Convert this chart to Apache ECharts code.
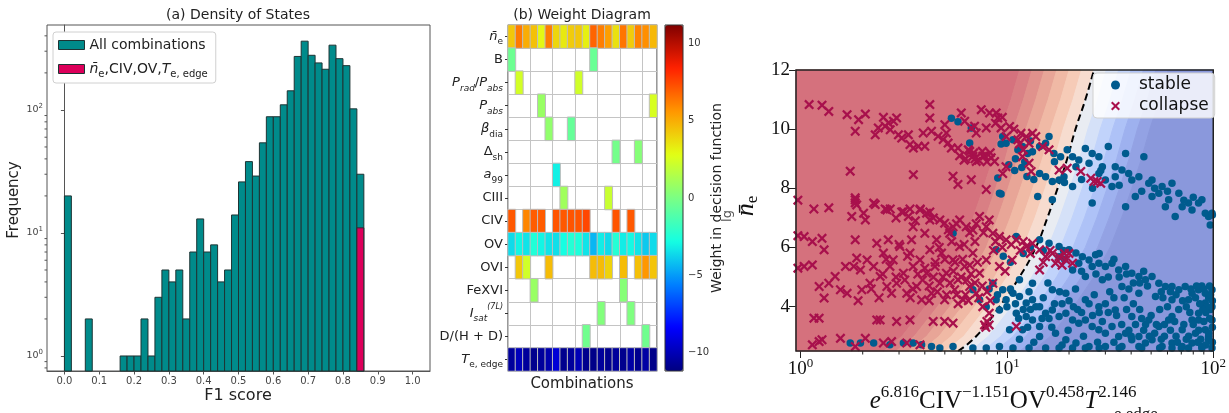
<!DOCTYPE html>
<html>
<head>
<meta charset="utf-8">
<script src="https://cdn.jsdelivr.net/npm/echarts@6/dist/echarts.min.js"></script>
<style>
html, body { margin: 0; padding: 0; background: #fff; }
#chart { width: 1229px; height: 413px; }
</style>
</head>
<body>
<div id="chart"></div>
<script>
// ---- (a) density of states: histogram, bins 0.02 wide (left edges) ----
var binStarts = [0.00, 0.06, 0.16, 0.18, 0.20, 0.22, 0.24, 0.26, 0.28, 0.30, 0.32, 0.34,
  0.36, 0.38, 0.40, 0.42, 0.44, 0.46, 0.48, 0.50, 0.52, 0.54, 0.56, 0.58, 0.60, 0.62,
  0.64, 0.66, 0.68, 0.70, 0.72, 0.74, 0.76, 0.78, 0.80, 0.82, 0.84];
var allCounts = [20, 2, 1, 1, 1, 2, 1, 3, 5, 4, 5, 2,
  7, 13, 7, 8, 4, 5, 14, 26, 38, 29, 54, 88, 88, 110,
  143, 272, 362, 278, 241, 214, 336, 261, 229, 102, 30];
var subsetBins = [0.84];
var subsetCounts = [11];
var f1Ticks = [0, 0.1, 0.2, 0.3, 0.4, 0.5, 0.6, 0.7, 0.8, 0.9, 1.0];
var freqTicks = [1, 10, 100];
var freqMinorTicks = [0.8, 0.9, 2, 3, 4, 5, 6, 7, 8, 9, 20, 30, 40, 50, 60, 70, 80, 90, 200, 300, 400];

// ---- (b) weight diagram ----
var combos = ['1','2','3','4','5','6','7','8','9','10','11','12','13','14','15','16','17','18','19','20'];
var features = [
  '{i|n\u0304}{s|e}', '{b|B}', '{i|P}{si|rad}{b|/}{i|P}{si|abs}', '{i|P}{si|abs}', '{i|\u03b2}{s|dia}',
  '{b|\u0394}{s|sh}', '{i|a}{s|99}', '{b|CIII}', '{b|CIV}', '{b|OV}', '{b|OVI}', '{b|FeXVI}',
  '{i|I}{si|sat}{u|(7L)}', '{b|D/(H + D)}', '{i|T}{s|e, edge}'
];
var _ = null;
var weightRows = [
  [4.3, 6.3, 5.0, 4.5, 3.0, 6.2, 3.9, 3.4, 4.2, 4.3, 3.2, 6.8, 6.2, 5.4, 3.6, 6.4, 4.2, 6.1, 5.8, 4.7],
  [-0.4, _, _, _, _, _, _, _, _, _, _, -0.5, _, _, _, _, _, _, _, _],
  [_, 2.4, _, _, _, _, _, _, _, 2.3, _, _, _, _, _, _, _, _, _, _],
  [_, _, _, _, 0.8, _, _, _, _, _, _, _, _, _, _, _, _, _, _, 2.5],
  [_, _, _, _, _, 0.6, _, _, -0.6, _, _, _, _, _, _, _, _, _, _, _],
  [_, _, _, _, _, _, _, _, _, _, _, _, _, _, -0.2, _, _, 0.3, _, _],
  [_, _, _, _, _, _, -3.1, _, _, _, _, _, _, _, _, _, _, _, _, _],
  [_, _, _, _, _, _, _, 1.0, _, _, _, _, _, 2.1, _, _, _, _, _, _],
  [7.1, _, 6.0, 7.0, 7.0, _, 7.2, 7.1, 7.2, 7.2, 7.5, _, _, _, 7.2, _, 7.1, _, _, _],
  [-3.6, -3.0, -3.4, -2.5, -3.0, -3.4, -3.5, -2.8, -2.4, -2.6, -3.4, -4.4, -3.2, -3.6, -2.4, -3.2, -2.9, -3.4, -4.0, -3.6],
  [_, 4.3, 2.3, _, _, 4.6, _, _, _, _, _, 4.6, 4.6, 4.0, _, 4.6, _, 4.5, 5.6, 4.4],
  [_, _, _, 0.8, _, _, _, _, _, _, _, _, _, _, _, 0.3, _, _, _, _],
  [_, _, _, _, _, _, _, _, _, _, _, _, 0.2, _, _, _, 0.1, _, _, _],
  [_, _, _, _, _, _, _, _, _, _, -0.3, _, _, _, _, _, _, _, -0.3, _],
  [-10.6, -9.9, -10.6, -10.9, -10.6, -10.2, -9.3, -10.9, -10.6, -10.0, -10.9, -11.0, -10.6, -10.9, -10.6, -10.9, -10.4, -10.9, -10.4, -11.0]
];
var weightTicks = [-10, -5, 0, 5, 10];
var jet = ['#000080', '#0000ff', '#0080ff', '#15ffe2', '#7bff84', '#e2ff15', '#ff9700', '#ff2100', '#800000'];

// ---- (c) decision boundary ----
var boundaryY = [2.5, 3, 4, 5, 6, 7, 8, 9, 10, 11, 12];
var boundaryX = [5.8, 7.1, 9.2, 11.5, 13.8, 15.7, 17.6, 19.6, 21.5, 24.0, 26.4];
// filled contour bands, edges in decades of x from the boundary
var bandEdges = [-3, -0.36, -0.30, -0.24, -0.18, -0.12, -0.06, 0, 0.06, 0.12, 0.18, 0.24, 0.30, 0.36, 3];
var bandColors = ['#d5717d', '#d97f84', '#e0918c', '#e8a597', '#f0b9a5', '#f6cbb7', '#f7dccf',
  '#e9ecf2', '#d5e1f8', '#c1d3fb', '#aec2f7', '#9eb1ef', '#93a2e4', '#8a98dc'];
var xTicksC = [1, 10, 100];
var xMinorTicksC = [2, 3, 4, 5, 6, 7, 8, 9, 20, 30, 40, 50, 60, 70, 80, 90];
var yTicksC = [4, 6, 8, 10, 12];

var collapsePoints = [
  [1.10,10.83],[1.27,10.81],[1.37,10.6],[1.68,10.49],[1.84,9.93],[1.91,10.32],[2.06,10.51],[2.30,9.81],
  [2.38,10.04],[2.52,10.40],[2.57,10.10],[2.67,10.21],[2.72,9.98],[2.82,10.27],[2.92,10.38],[2.98,9.81],
  [3.09,9.70],[3.33,9.81],[3.39,9.48],[3.52,9.36],[3.72,9.42],[3.93,9.87],[4.0,9.42],[4.23,10.83],
  [4.23,10.38],[4.31,9.93],[4.64,9.76],[4.91,9.65],[5.0,10.15],[5.09,9.87],[5.19,9.53],[5.38,9.36],
  [5.79,9.36],[6.01,10.55],[6.24,10.27],[6.72,10.04],[6.97,10.1],[7.1,9.87],[6.6,9.25],[6.84,9.08],
  [7.51,10.66],[7.64,9.08],[7.94,10.04],[8.24,10.55],[8.39,9.03],[8.71,8.91],[8.87,10.55],[9.03,10.38],
  [9.37,10.04],[7.1,8.91],[1.74,8.58],[3.52,8.46],[5.48,8.41],[5.79,8.13],[6.72,8.29],[7.94,7.96],
  [6.3,9.0],[6.9,9.2],[7.3,8.95],[7.8,9.1],[8.0,8.9],[6.5,9.3],[7.0,9.0],[7.6,9.25],[5.9,9.1],[8.3,9.2],[6.2,8.95],
  [10.3,10.09],[9.91,9.75],[11.3,9.64],[11.7,9.86],[12.4,9.75],[12.8,9.52],[13.3,9.86],[13.8,9.75],
  [11.9,9.07],[9.9,8.73],[9.54,8.5],[13.1,8.57],[12.8,8.85],[14.9,9.41],[16.0,9.3],[17.9,8.62],
  [19.6,8.68],[22.8,8.57],[25.5,8.34],[27.4,8.23],[28.5,8.17],[26.4,8.23],[8.8,10.2],[9.5,10.4],
  [10.8,10.0],[11.5,9.5],[12.0,9.3],
  [1.84,7.68],[1.84,7.51],[1.37,7.34],[1.16,7.3],[2.3,7.45],[2.57,7.3],[2.72,7.3],[3.09,7.2],[3.39,7.3],
  [3.8,7.3],[4.23,7.2],[1.84,7.61],[1.87,7.44],[1.77,7.05],[2.02,7.16],[2.06,6.93],[2.26,7.5],[2.62,7.27],
  [3.15,7.21],[3.33,7.05],[3.51,6.7],[3.79,7.27],[4.08,7.16],[4.23,6.93],[4.73,6.93],[4.99,6.82],
  [5.48,6.7],[5.9,6.93],[6.35,6.7],[6.84,6.59],[7.37,7.05],[7.94,6.7],[8.21,6.93],[8.55,6.48],[9.2,6.37],
  [9.91,6.26],[11.1,6.26],[12.4,6.03],[13.3,6.14],[14.4,5.92],[15.4,5.69],[16.6,5.8],[17.2,5.47],
  [17.9,5.69],[19.3,5.58],[20,5.8],[14.4,5.24],[20.8,5.47],[2.9,7.0],[3.6,6.9],[4.4,7.0],[5.2,6.6],
  [5.7,6.8],[6.6,6.5],[7.1,6.8],[7.7,6.5],[8.8,6.2],[9.5,6.0],[10.5,6.1],[11.6,5.9],[12.0,6.2],
  [13.0,5.8],[15.0,5.5],[16.2,5.9],[18.5,5.4],[19.0,5.8],
  [0.97,7.6],[0.97,6.4],[0.97,5.3],[1.04,6.37],[1.14,6.2],[1.27,6.31],[1.3,5.92],[1.04,5.36],[1.14,5.41],
  [1.23,4.68],[1.3,4.29],[1.37,4.79],[1.47,5.02],[1.56,4.57],[1.65,5.36],[1.68,4.45],[1.84,6.26],
  [1.81,5.36],[1.87,5.64],[1.95,5.24],[1.98,4.57],[2.1,5.58],[2.17,4.79],[2.26,5.36],[2.34,6.14],
  [2.43,5.02],[2.52,5.81],[2.62,4.68],[2.66,6.26],[2.71,5.36],[2.76,4.45],[2.81,5.58],[2.92,4.79],
  [3.03,6.03],[3.15,5.13],[3.27,4.45],[3.39,5.81],[3.45,6.26],[3.51,5.36],[3.65,4.68],[3.79,5.58],
  [3.86,4.23],[4.0,6.48],[4.08,5.13],[4.23,5.92],[4.31,4.45],[4.48,5.36],[4.56,6.26],[4.73,4.79],
  [4.82,5.81],[4.99,4.23],[5.09,5.13],[5.28,6.48],[5.48,5.58],[5.58,4.57],[5.79,4.91],[5.9,6.03],
  [6.13,4.23],[6.24,5.36],[6.6,4.68],[6.84,5.81],[7.1,4.45],[7.37,5.13],[7.64,4.0],[7.94,5.58],
  [8.21,3.78],[8.55,4.79],[9.2,5.36],[10.6,5.58],[11.1,3.33],[3.2,4.9],[3.5,4.6],[3.9,4.9],[4.2,4.7],
  [4.4,5.0],[4.6,4.5],[4.9,5.0],[5.3,4.8],[5.5,5.2],[5.7,4.4],[6.0,5.0],[6.4,4.9],[6.7,5.1],[7.0,4.8],
  [7.3,4.3],[6.3,4.4],[5.1,4.4],[4.0,5.3],[3.7,5.1],[2.9,5.0],[2.5,5.1],[2.2,4.6],[8.0,4.5],[8.3,4.2],[7.6,4.7],
  [4.5,5.5],[5.0,5.6],[5.6,5.5],[6.1,5.6],[6.6,5.4],[7.2,5.5],[4.7,6.0],[5.4,6.2],[6.2,6.1],[7.0,6.2],
  [3.3,5.7],[3.0,6.1],[2.6,5.6],[8.6,5.9],[9.8,5.2],[4.2,4.2],[5.8,4.1],[6.5,4.2],[3.4,4.3],[2.4,4.3],[1.9,4.2],
  [1.16,3.61],[1.23,3.61],[2.34,3.55],[2.43,3.55],[2.92,3.5],[3.39,3.55],[4.39,3.5],[4.99,3.5],[5.48,3.44],
  [7.79,3.38],[8.2,3.38],[8.0,3.5],[7.9,3.3],[1.14,2.71],[1.23,2.82],[1.27,2.88],[1.56,2.93],[1.84,2.65],
  [2.06,2.93],[2.52,2.77],[2.76,2.82],[3.27,2.77],[3.79,2.71]
];
var stablePoints = [
  [5.38,10.37],[5.79,10.25],[6.6,9.53],[6.72,10.04],[9.03,8.35],[9.37,7.81],[9.37,9.5],[9.54,9.75],
  [9.91,9.52],[10.7,9.64],[11.3,9.3],[11.9,9.41],[12.6,9.18],[13.3,9.24],[14.4,9.41],[16.0,9.75],
  [15.4,9.52],[16.9,9.18],[18.2,9.07],[19.6,9.3],[20.8,9.07],[22.3,8.96],[24.0,9.35],[25.9,9.18],
  [27.9,9.07],[31.0,9.41],[33.5,8.73],[37.6,9.18],[36.1,8.62],[38.9,8.5],[43.6,8.39],[46.1,9.07],
  [50.5,8.28],[56.5,8.06],[63.1,8.17],[68.1,7.83],[75.9,7.5],[84.9,7.5],[88.1,7.61],[94.9,7.05],
  [96.7,6.76],[50.5,7.72],[58.6,7.38],[65.4,7.05],[37.6,7.38],[25.9,7.5],[41.9,7.72],[30.0,8.28],
  [27.9,8.5],[32.3,8.06],[20.8,8.06],[16.6,7.61],[14.1,7.72],[9.2,7.83],[14.4,8.5],[15.4,8.39],
  [16.6,8.23],[17.9,8.28],[18.9,8.39],[21.6,8.73],[25.0,8.85],[29.0,8.73],[33.5,8.39],[40.3,8.28],
  [48.7,8.17],[54.5,7.83],[60.8,7.61],[70.7,7.38],[78.9,7.27],[91.5,7.16],[98.6,7.16],[10.2,8.8],
  [10.9,8.6],[11.8,8.7],[12.5,8.4],[13.5,8.3],[11.0,9.0],[12.2,8.9],[13.0,9.6],[17.0,8.9],[19.0,8.2],
  [23.0,8.3],[26.0,8.0],[28.5,8.6],[35.0,8.1],[45.0,7.9],[52.0,8.0],[60.0,7.9],[72.0,7.6],[80.0,7.7],[99.0,7.1],
  [5.48,6.48],[8.87,5.92],[11.1,6.37],[14.4,6.26],[16.0,6.14],[17.9,6.03],[20.0,5.92],[21.6,5.81],
  [23.2,5.69],[25.0,5.58],[26.9,5.75],[27.9,5.47],[30.0,5.36],[32.3,5.47],[34.8,5.24],[37.6,5.36],
  [40.3,5.13],[43.6,5.02],[46.9,4.91],[50.5,5.02],[54.5,4.79],[58.6,4.68],[63.1,4.68],[68.1,4.57],
  [73.1,4.68],[78.9,4.45],[84.9,4.57],[91.5,4.45],[98.6,4.57],[20.8,5.24],[24.0,5.02],[29.0,4.91],
  [36.1,4.68],[43.6,4.45],[52.5,4.34],[63.1,4.23],[75.9,4.23],[91.5,4.12],[98.6,4.0],[98.6,3.55],
  [91.5,3.22],[84.9,3.55],[94.9,2.99],[17.9,5.69],[22.3,5.47],[25.9,5.36],[9.6,5.7],[10.4,5.5],
  [12.0,5.8],[13.0,6.0],[15.0,5.9],[19.0,5.6],[35.0,5.0],[41.0,4.8],[48.0,4.7],[56.0,4.5],[66.0,4.4],
  [82.0,4.3],[88.0,4.7],[95.0,4.3],[71.0,4.2],
  [27.0,5.1],[31.0,5.0],[38.0,5.1],[46.0,5.2],[33.0,5.6],[23.0,5.2],[18.8,5.9],[28.0,5.8],
  [6.84,4.57],[8.55,4.79],[9.54,4.57],[9.91,4.23],[10.7,4.45],[11.5,4.34],[12.4,4.12],[13.3,4.23],
  [14.4,4.0],[15.4,3.78],[16.6,3.89],[17.9,3.67],[19.3,3.78],[20.8,3.55],[22.3,3.44],[24.0,3.55],
  [25.9,3.33],[27.9,3.22],[30.0,3.1],[32.3,3.33],[34.8,2.99],[37.6,3.1],[40.3,2.88],[43.6,2.99],
  [46.9,2.77],[50.5,2.88],[56.5,2.65],[63.1,2.77],[70.7,2.65],[78.9,2.77],[88.1,2.65],[94.9,2.88],
  [12.4,3.67],[13.3,3.55],[14.4,3.33],[11.1,3.78],[10.3,3.22],[11.9,3.22],[14.4,2.99],[17.2,3.1],
  [19.3,2.88],[21.6,2.77],[25.0,2.65],[30.0,2.65],[36.1,2.65],[43.6,2.65],[54.5,3.33],[60.8,3.55],
  [70.7,3.22],[78.9,3.55],[84.9,3.78],[63.1,3.67],[48.7,3.55],[40.3,3.67],[33.5,3.89],[27.9,4.0],
  [24.0,4.23],[19.3,4.45],[16.6,4.57],[13.3,4.79],[11.5,4.91],[8.87,4.23],[7.37,4.23],[7.94,4.0],
  [9.2,3.89],[10.0,4.0],[11.0,4.1],[12.0,3.9],[13.8,4.0],[15.0,4.3],[16.0,3.6],[18.5,4.1],[21.0,4.0],
  [23.0,3.8],[26.0,3.7],[29.0,3.5],[31.0,3.8],[36.0,3.4],[39.0,3.2],[42.0,3.4],[46.0,3.2],[52.0,3.1],
  [58.0,3.0],[66.0,3.0],[74.0,2.9],[82.0,3.1],[90.0,3.5],[97.0,3.9],[99.0,3.3],[96.0,3.6],
  [30,4.1],[34,3.7],[38,3.9],[44,3.9],[47,3.4],[50,3.7],[55,3.9],[58,3.4],[62,3.2],[65,3.5],[68,3.9],
  [72,3.4],[76,3.0],[80,3.4],[85,3.2],[87,2.9],[92,3.8],[95,3.1],[99,2.8],[99,4.2],[97,4.4],[93,4.0],
  [89,3.9],[86,4.1],[77,3.8],[74,4.0],[60,4.0],[53,3.4],[45,3.6],[41,4.1],[37,4.3],[33,4.3],[28,3.8],
  [25,4.1],[22,3.9],[20,4.2],[17,4.1],[14.8,3.6],[13.0,3.9],[11.4,3.6],[10.4,4.6],[12.8,4.5],[9.0,4.4],
  [8.2,4.6],[15.8,4.8],[18.0,4.5],[21.5,4.6],[26.5,4.4],[31.5,4.5],[39.0,4.6],[44.0,4.8],[57.0,4.3],
  [62.0,4.5],[78.0,4.6],[83.0,4.7],[90.0,4.6],[96.0,4.7],[12.6,3.3],[16.5,3.3],[19.8,3.2],[23.5,3.0],
  [27.5,2.8],[33.0,2.8],[40.0,3.0],[49.0,3.0],[56.0,2.9],[67.0,2.8],[84.0,2.8],[92.0,2.7],[13.5,2.8],
  [18.5,2.7],[11.5,2.9],[55,2.6],[70,2.6],[88,2.6],[45,2.6],[35,2.6],[28,2.6],[24,2.6],
  [1.74,2.77],[1.95,2.77],[2.26,2.77],[2.71,2.71],[3.15,2.77],[3.51,2.77],[3.86,2.71],[4.31,2.65],
  [4.73,2.6],[5.48,2.65],[6.84,2.6],[7.94,2.6],[9.2,2.65],[10.7,2.6],[12.8,2.6],[15.4,2.6],[17.9,2.6],
  [20.8,2.6],[63.1,2.6],[75.9,2.6],[98.6,2.6]
];

var binW = 0.02;
var xMinA = -0.05, xMaxA = 1.05, yMinA = 0.755, yMaxA = 490;
var xMinC = 0.95, xMaxC = 100, yMinC = 2.5, yMaxC = 12;
var wMin = -11.2, wMax = 11.2;

var heatData = [];
weightRows.forEach(function (row, r) {
  row.forEach(function (v, c) {
    if (v !== null) heatData.push([c, r, v]);
  });
});

function histItem(params, api) {
  var x0 = api.value(0);
  var top = api.coord([x0, api.value(1)]);
  var bot = api.coord([x0 + binW, yMinA]);
  return {
    type: 'rect',
    shape: { x: top[0], y: top[1], width: bot[0] - top[0], height: bot[1] - top[1] },
    style: { fill: api.visual('color'), stroke: '#1e3434', lineWidth: 1 }
  };
}

function minorTickA(params, api) {
  var p = api.coord([xMinA, api.value(1)]);
  return { type: 'line', shape: { x1: p[0] - 2.5, y1: p[1], x2: p[0], y2: p[1] }, style: { stroke: '#555', lineWidth: 1 } };
}

function minorTickC(params, api) {
  var p = api.coord([api.value(0), yMinC]);
  return { type: 'line', shape: { x1: p[0], y1: p[1], x2: p[0], y2: p[1] + 3.5 }, style: { stroke: '#222', lineWidth: 1 } };
}

function clampX(x) { return Math.min(Math.max(x, xMinC), xMaxC); }

function bandItem(params, api) {
  var i = params.dataIndex;
  var lo = Math.pow(10, bandEdges[i]), hi = Math.pow(10, bandEdges[i + 1]);
  var pts = [], k;
  for (k = 0; k < boundaryY.length; k++) pts.push(api.coord([clampX(boundaryX[k] * lo), boundaryY[k]]));
  for (k = boundaryY.length - 1; k >= 0; k--) pts.push(api.coord([clampX(boundaryX[k] * hi), boundaryY[k]]));
  return { type: 'polygon', shape: { points: pts }, style: { fill: bandColors[i], stroke: bandColors[i], lineWidth: 1 } };
}

var crossPath = 'path://M0,1.6 L1.6,0 L5,3.4 L8.4,0 L10,1.6 L6.6,5 L10,8.4 L8.4,10 L5,6.6 L1.6,10 L0,8.4 L3.4,5 Z';
var serif = 'Liberation Serif';
var sans = 'DejaVu Sans';

var richB = {
  b: { fontSize: 13, fontFamily: sans, color: '#222', lineHeight: 20 },
  i: { fontSize: 13, fontFamily: sans, fontStyle: 'italic', color: '#222', lineHeight: 20 },
  s: { fontSize: 9, fontFamily: sans, color: '#222', lineHeight: 9, verticalAlign: 'bottom' },
  si: { fontSize: 9, fontFamily: sans, fontStyle: 'italic', color: '#222', lineHeight: 9, verticalAlign: 'bottom' },
  u: { fontSize: 8, fontFamily: sans, fontStyle: 'italic', color: '#222', lineHeight: 8, verticalAlign: 'top' }
};
var richLegA = {
  b: { fontSize: 14, fontFamily: sans, color: '#222', lineHeight: 20 },
  i: { fontSize: 14, fontFamily: sans, fontStyle: 'italic', color: '#222', lineHeight: 20 },
  s: { fontSize: 10, fontFamily: sans, color: '#222', lineHeight: 10, verticalAlign: 'bottom' }
};

var chart = echarts.init(document.getElementById('chart'));

chart.setOption({
  animation: false,
  backgroundColor: '#fff',
  grid: [
    { left: 47, top: 25, width: 383, height: 346, show: true, borderColor: '#555', borderWidth: 1, backgroundColor: 'transparent' },
    { left: 508, top: 25, width: 149, height: 346, show: true, borderColor: '#333', borderWidth: 1, backgroundColor: 'transparent' },
    { left: 665, top: 25, width: 18, height: 346 },
    { left: 796, top: 70, width: 420, height: 281, show: true, borderColor: '#222', borderWidth: 1.5, backgroundColor: 'transparent', z: 5 }
  ],
  xAxis: [
    {
      gridIndex: 0, type: 'value', min: xMinA, max: xMaxA, splitLine: { show: false },
      axisLine: { lineStyle: { color: '#555' } },
      axisTick: { customValues: f1Ticks, length: 3.5, lineStyle: { color: '#555' } },
      axisLabel: { customValues: f1Ticks, formatter: function (v) { return v.toFixed(1); }, fontSize: 10, color: '#444', fontFamily: sans, margin: 5 }
    },
    {
      gridIndex: 1, type: 'category', data: combos,
      axisLine: { show: false }, axisTick: { show: false }, axisLabel: { show: false },
      splitLine: { show: true, lineStyle: { color: '#c4c4c4', width: 1 } }
    },
    { gridIndex: 2, type: 'value', show: false, min: 0, max: 1 },
    {
      gridIndex: 3, type: 'log', logBase: 10, min: xMinC, max: xMaxC, splitLine: { show: false },
      axisLine: { show: false },
      axisTick: { customValues: xTicksC, length: 7, lineStyle: { color: '#222' } },
      axisLabel: {
        customValues: xTicksC, margin: 6,
        formatter: function (v) { return '{b|10}{u|' + Math.round(Math.log10(v)) + '}'; },
        rich: {
          b: { fontSize: 19, fontFamily: serif, color: '#111', lineHeight: 24 },
          u: { fontSize: 13, fontFamily: serif, color: '#111', lineHeight: 13, verticalAlign: 'top' }
        }
      }
    }
  ],
  yAxis: [
    {
      gridIndex: 0, type: 'log', logBase: 10, min: yMinA, max: yMaxA, splitLine: { show: false },
      axisLine: { show: true, lineStyle: { color: '#555' } },
      axisTick: { show: true, customValues: freqTicks, length: 3.5, lineStyle: { color: '#555' } },
      axisLabel: {
        customValues: freqTicks, margin: 4,
        formatter: function (v) { return '{b|10}{u|' + Math.round(Math.log10(v)) + '}'; },
        rich: {
          b: { fontSize: 9.5, fontFamily: sans, color: '#444', lineHeight: 14 },
          u: { fontSize: 7, fontFamily: sans, color: '#444', lineHeight: 7, verticalAlign: 'top' }
        }
      }
    },
    {
      gridIndex: 1, type: 'category', data: features, inverse: true,
      axisLine: { show: false },
      axisTick: { show: true, alignWithLabel: true, length: 3, lineStyle: { color: '#333' } },
      axisLabel: { margin: 5, rich: richB },
      splitLine: { show: true, lineStyle: { color: '#c4c4c4', width: 1 } }
    },
    {
      gridIndex: 2, type: 'value', min: wMin, max: wMax, position: 'right', splitLine: { show: false },
      axisLine: { show: false },
      axisTick: { show: true, customValues: weightTicks, length: 3, lineStyle: { color: '#333' } },
      axisLabel: {
        customValues: weightTicks, margin: 5, fontSize: 10, color: '#333', fontFamily: sans,
        formatter: function (v) { return v < 0 ? '\u2212' + Math.abs(v) : String(v); }
      }
    },
    {
      gridIndex: 3, type: 'value', min: yMinC, max: yMaxC, splitLine: { show: false },
      axisLine: { show: false },
      axisTick: { show: true, customValues: yTicksC, length: 7, lineStyle: { color: '#222' } },
      axisLabel: { customValues: yTicksC, margin: 6, fontSize: 19, fontFamily: serif, color: '#111' }
    }
  ],
  visualMap: {
    type: 'continuous', min: wMin, max: wMax, seriesIndex: 3, calculable: false,
    showLabel: false, text: null, left: 665, top: 25, itemWidth: 18, itemHeight: 346, padding: 0,
    inRange: { color: jet }, hoverLink: false
  },
  legend: [
    {
      orient: 'vertical', left: 53, top: 32, itemWidth: 26, itemHeight: 9, itemGap: 10,
      padding: [6, 8, 4, 5], borderColor: '#d0d0d0', borderWidth: 1, borderRadius: 3, backgroundColor: '#fff',
      selectedMode: false,
      data: [
        { name: 'All combinations', icon: 'rect', itemStyle: { color: '#008b8b', borderColor: '#1e3434', borderWidth: 1 } },
        { name: 'subset', icon: 'rect', itemStyle: { color: '#dc005a', borderColor: '#1e3434', borderWidth: 1 } }
      ],
      formatter: function (name) {
        return name === 'subset' ? '{i|n\u0304}{s|e}{b|,CIV,OV,}{i|T}{s|e, edge}' : '{b|' + name + '}';
      },
      textStyle: { rich: richLegA }
    },
    {
      orient: 'vertical', left: 1093, top: 73, itemWidth: 9, itemHeight: 9, itemGap: 3,
      padding: [3, 6, 3, 18], borderColor: '#d0d0d0', borderWidth: 1, borderRadius: 4,
      backgroundColor: 'rgba(255,255,255,0.82)', selectedMode: false, z: 20,
      data: [
        { name: 'stable', icon: 'circle' },
        { name: 'collapse', icon: crossPath }
      ],
      textStyle: { fontSize: 17, lineHeight: 18, fontFamily: sans, color: '#111', padding: [0, 0, 0, 14] }
    }
  ],
  series: [
    {
      name: 'All combinations', type: 'custom', xAxisIndex: 0, yAxisIndex: 0, silent: true,
      itemStyle: { color: '#008b8b' }, renderItem: histItem, encode: { x: 0, y: 1 },
      data: binStarts.map(function (b, i) { return [b, allCounts[i]]; })
    },
    {
      name: 'subset', type: 'custom', xAxisIndex: 0, yAxisIndex: 0, silent: true,
      itemStyle: { color: '#dc005a' }, renderItem: histItem, encode: { x: 0, y: 1 },
      data: subsetBins.map(function (b, i) { return [b, subsetCounts[i]]; })
    },
    {
      name: 'minorA', type: 'custom', xAxisIndex: 0, yAxisIndex: 0, silent: true,
      renderItem: minorTickA, encode: { x: 0, y: 1 },
      data: freqMinorTicks.map(function (v) { return [xMinA, v]; })
    },
    {
      name: 'weights', type: 'heatmap', xAxisIndex: 1, yAxisIndex: 1, data: heatData, silent: true,
      itemStyle: { borderColor: '#bdbdbd', borderWidth: 1 }, emphasis: { disabled: true }
    },
    {
      name: 'surface', type: 'custom', xAxisIndex: 3, yAxisIndex: 3, silent: true, z: 1,
      renderItem: bandItem, encode: { x: 0, y: 1 },
      data: bandColors.map(function () { return [boundaryX[0], boundaryY[0]]; })
    },
    {
      name: 'boundary', type: 'line', xAxisIndex: 3, yAxisIndex: 3, silent: true, z: 3,
      showSymbol: false, smooth: true,
      lineStyle: { color: '#000', width: 2, type: [7, 4] },
      data: boundaryX.map(function (x, i) { return [x, boundaryY[i]]; })
    },
    {
      name: 'stable', type: 'scatter', xAxisIndex: 3, yAxisIndex: 3, silent: true, z: 4,
      symbol: 'circle', symbolSize: 7.5, itemStyle: { color: '#005b8e', opacity: 1 },
      data: stablePoints
    },
    {
      name: 'collapse', type: 'scatter', xAxisIndex: 3, yAxisIndex: 3, silent: true, z: 4,
      symbol: crossPath, symbolSize: 10, itemStyle: { color: '#a8104c', opacity: 1 },
      data: collapsePoints
    },
    {
      name: 'minorC', type: 'custom', xAxisIndex: 3, yAxisIndex: 3, silent: true,
      renderItem: minorTickC, encode: { x: 0, y: 1 },
      data: xMinorTicksC.map(function (v) { return [v, yMinC]; })
    }
  ],
  graphic: [
    { type: 'text', x: 238, y: 15, style: { text: '(a) Density of States', font: '14px "DejaVu Sans"', fill: '#222', textAlign: 'center', textVerticalAlign: 'middle' } },
    { type: 'text', x: 238, y: 396, style: { text: 'F1 score', font: '16px "DejaVu Sans"', fill: '#222', textAlign: 'center', textVerticalAlign: 'middle' } },
    { type: 'text', x: 14, y: 200, rotation: Math.PI / 2, style: { text: 'Frequency', font: '15px "DejaVu Sans"', fill: '#222', textAlign: 'center', textVerticalAlign: 'middle' } },
    { type: 'text', x: 582, y: 15, style: { text: '(b) Weight Diagram', font: '14px "DejaVu Sans"', fill: '#222', textAlign: 'center', textVerticalAlign: 'middle' } },
    { type: 'text', x: 582, y: 384, style: { text: 'Combinations', font: '15px "DejaVu Sans"', fill: '#222', textAlign: 'center', textVerticalAlign: 'middle' } },
    { type: 'text', x: 717, y: 198, rotation: Math.PI / 2, style: { text: 'Weight in decision function', font: '14px "DejaVu Sans"', fill: '#222', textAlign: 'center', textVerticalAlign: 'middle' } },
    { type: 'rect', shape: { x: 665, y: 25, width: 18, height: 346 }, style: { fill: 'none', stroke: '#333', lineWidth: 1 }, z: 100 },
    { type: 'text', x: 728, y: 216, rotation: Math.PI / 2, style: { text: 'lg', font: '13px "DejaVu Sans"', fill: '#555', textAlign: 'center', textVerticalAlign: 'middle' } },
    {
      type: 'text', x: 746, y: 206, rotation: Math.PI / 2,
      style: {
        text: '{n|n\u0304}{s|e}', textAlign: 'center', textVerticalAlign: 'middle',
        rich: {
          n: { font: 'italic 26px "Liberation Serif"', fill: '#111', lineHeight: 30 },
          s: { font: '17px "Liberation Serif"', fill: '#111', lineHeight: 17, verticalAlign: 'bottom' }
        }
      }
    },
    {
      type: 'text', x: 1003, y: 401,
      style: {
        text: '{i|e}{u|6.816}{b|CIV}{u|\u22121.151}{b|OV}{u|0.458}{i|T}{u|2.146}', textAlign: 'center', textVerticalAlign: 'middle',
        rich: {
          b: { font: '25px "Liberation Serif"', fill: '#111', lineHeight: 34 },
          i: { font: 'italic 25px "Liberation Serif"', fill: '#111', lineHeight: 34 },
          u: { font: '17px "Liberation Serif"', fill: '#111', lineHeight: 17, verticalAlign: 'top' }
        }
      }
    },
    { type: 'text', x: 1114, y: 406, style: { text: 'e,edge', font: '17px "Liberation Serif"', fill: '#111', textAlign: 'left', textVerticalAlign: 'top' } }
  ]
});
</script>
</body>
</html>
